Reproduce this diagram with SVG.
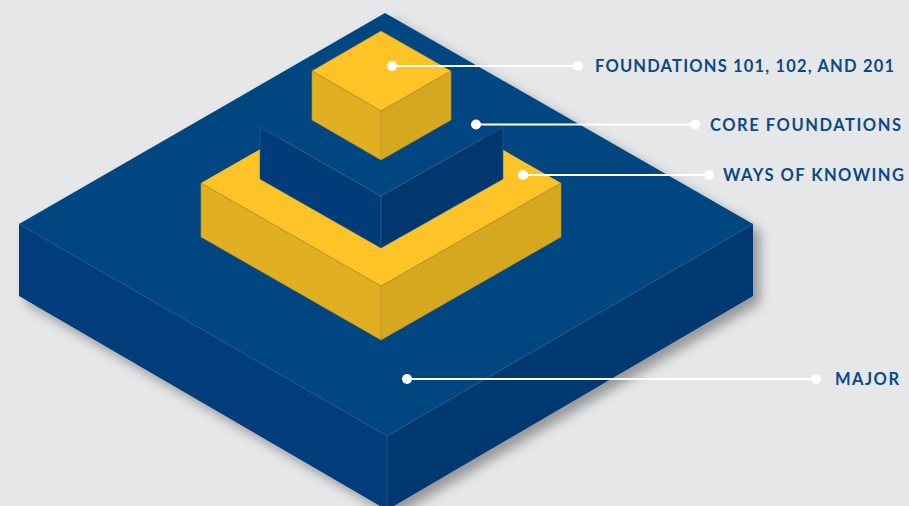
<svg xmlns="http://www.w3.org/2000/svg" width="909" height="506" viewBox="0 0 909 506">
<defs>
<filter id="shadow" x="-10%" y="-10%" width="125%" height="130%">
<feDropShadow dx="7" dy="7" stdDeviation="6" flood-color="#000" flood-opacity="0.35"/>
</filter>
<style>
.bt{fill:#004682}
.bl{fill:#003C7A}
.br{fill:#00376F}
.be{stroke:#2B5F95;stroke-width:0.6;stroke-linejoin:round}
.yt{fill:#FEC326}
.yl{fill:#E1AF22}
.yr{fill:#D6A820}
.ye{stroke:#B8911E;stroke-width:0.6;stroke-linejoin:round}
.ln{stroke:#FFFFFF;stroke-width:2.2;fill:none}
.dot{fill:#FFFFFF}
.lbl{font-family:Lato,"Open Sans","Liberation Sans",sans-serif;font-weight:700;font-size:16.5px;fill:#0B4A86;letter-spacing:1px}
</style>
</defs>
<rect width="909" height="506" fill="#E6E7E9"/>
<g id="major">
<g filter="url(#shadow)">
<path class="bt" d="M385,13 L753,224 L387,436 L19,224 Z"/>
<path class="bl" d="M19,224 L387,436 L387,510 L19,296 Z"/>
<path class="br" d="M387,436 L753,224 L753,296 L387,510 Z"/>
</g>
<path class="be" fill="none" d="M19,224 L387,436 L753,224 M387,436 L387,510"/>
</g>
<g id="ways-of-knowing">
<path class="yt" d="M201,183 L381,80 L561,183 L381,286 Z"/>
<path class="yl ye" d="M201,183 L381,286 L381,340 L201,237 Z"/>
<path class="yr ye" d="M381,286 L561,183 L561,237 L381,340 Z"/>
</g>
<g id="core-foundations">
<path class="bt" d="M260,127 L381,57 L503,127 L381,196 Z"/>
<path class="bl be" d="M260,127 L381,196 L381,248 L260,179 Z"/>
<path class="br be" d="M381,196 L503,127 L503,179 L381,248 Z"/>
</g>
<g id="foundations">
<path class="yt ye" d="M381,31 L451,71 L381,111 L312,71 Z"/>
<path class="yl ye" d="M312,71 L381,111 L381,160 L312,120 Z"/>
<path class="yr ye" d="M381,111 L451,71 L451,120 L381,160 Z"/>
</g>
<g id="connectors">
<line class="ln" x1="392" y1="66" x2="578" y2="66"/>
<circle class="dot" cx="392" cy="66" r="5"/>
<circle class="dot" cx="578" cy="66" r="5"/>
<line class="ln" x1="476" y1="124.5" x2="695" y2="124.5"/>
<circle class="dot" cx="476" cy="124.5" r="5"/>
<circle class="dot" cx="695" cy="124.5" r="5"/>
<line class="ln" x1="523" y1="175" x2="709" y2="175"/>
<circle class="dot" cx="523" cy="175" r="5"/>
<circle class="dot" cx="709" cy="175" r="5"/>
<line class="ln" x1="407" y1="379" x2="816" y2="379"/>
<circle class="dot" cx="407" cy="379" r="5"/>
<circle class="dot" cx="816" cy="379" r="5"/>
</g>
<g id="labels">
<text class="lbl" x="595" y="72" textLength="300" lengthAdjust="spacing">FOUNDATIONS 101, 102, AND 201</text>
<text class="lbl" x="710" y="130.5" textLength="192" lengthAdjust="spacing">CORE FOUNDATIONS</text>
<text class="lbl" x="723" y="181" textLength="182" lengthAdjust="spacing">WAYS OF KNOWING</text>
<text class="lbl" x="835" y="385" textLength="65" lengthAdjust="spacing">MAJOR</text>
</g>
</svg>
